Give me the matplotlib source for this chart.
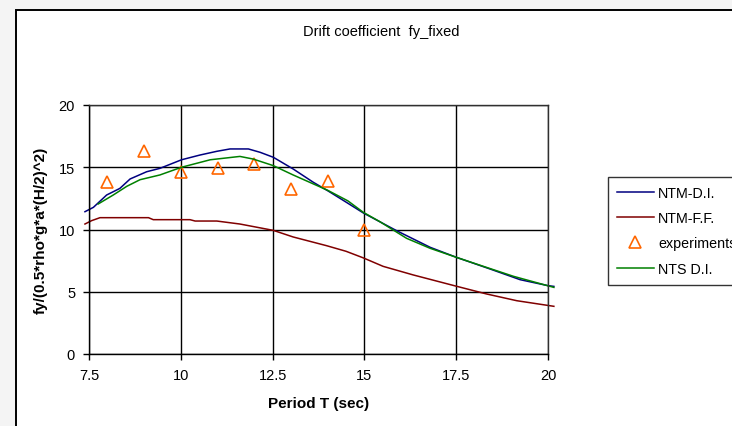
import numpy as np
import matplotlib.pyplot as plt
from matplotlib.patches import Rectangle

plt.rcParams['font.family'] = ['Liberation Sans', 'DejaVu Sans']

# NTM-D.I.
T_di = [7.39, 7.62, 7.98, 8.34, 8.62, 9.07, 9.43, 10.02, 10.52, 10.98, 11.34, 11.84,
        12.16, 12.52, 13.06, 13.61, 14.02, 14.5, 14.97, 15.88, 16.79, 17.51, 18.42,
        19.24, 20.0, 20.16]
fy_di = [11.43, 11.78, 12.77, 13.3, 14.06, 14.64, 14.91, 15.6, 15.98, 16.28, 16.47, 16.47,
         16.2, 15.8, 14.86, 13.79, 13.08, 12.2, 11.33, 9.9, 8.57, 7.76, 6.83,
         5.97, 5.49, 5.43]

# NTM-F.F.
T_ff = [7.39, 7.57, 7.8, 9.12, 9.25, 10.25, 10.39, 10.98, 11.61, 12.52, 13.06, 13.97,
        14.5, 14.97, 15.51, 16.33, 17.51, 18.33, 19.15, 20.16]
fy_ff = [10.44, 10.71, 10.95, 10.95, 10.79, 10.79, 10.68, 10.68, 10.44, 9.93, 9.4, 8.7,
         8.25, 7.72, 7.04, 6.35, 5.44, 4.82, 4.28, 3.83]

# NTS D.I.
T_nts = [7.75, 8.16, 8.53, 8.89, 9.43, 10.02, 10.8, 11.61, 11.97, 12.52, 13.06, 14.0,
         14.55, 14.97, 15.42, 16.15, 16.79, 17.51, 18.24, 19.06, 20.16]
fy_nts = [12.05, 12.77, 13.47, 14.0, 14.38, 15.0, 15.6, 15.87, 15.66, 15.13, 14.38, 13.15,
          12.3, 11.38, 10.63, 9.29, 8.49, 7.76, 7.04, 6.24, 5.35]

# experiments
T_exp = [8, 9, 10, 11, 12, 13, 14, 15]
fy_exp = [13.8, 16.3, 14.6, 14.9, 15.3, 13.25, 13.9, 9.96]

W, H = 732, 427
fig = plt.figure(figsize=(W / 100, H / 100), dpi=100, facecolor='#f4f4f4')

# white chart area with a black frame, behind the axes
fig.patches.append(Rectangle((16 / W, -0.1), 1.2, 1.1 - 11 / H, transform=fig.transFigure,
                             facecolor='white', edgecolor='black', linewidth=1.4, zorder=-5))

ax = fig.add_axes([89 / W, 1 - 355 / H, (548 - 89) / W, (355 - 106) / H])
ax.set_facecolor('white')

l1, = ax.plot(T_di, fy_di, color='#000080', lw=1.1, clip_on=False, label='NTM-D.I.')
l2, = ax.plot(T_ff, fy_ff, color='#800000', lw=1.1, clip_on=False, label='NTM-F.F.')
l3, = ax.plot(T_exp, fy_exp, ls='none', marker='^', ms=8, mfc='none', mec='#ff6600',
              mew=1.2, clip_on=False, label='experiments')
l4, = ax.plot(T_nts, fy_nts, color='#008000', lw=1.1, clip_on=False, label='NTS D.I.')

ax.set_xlim(7.5, 20)
ax.set_ylim(0, 20)
ax.set_xticks([7.5, 10, 12.5, 15, 17.5, 20])
ax.set_xticklabels(['7.5', '10', '12.5', '15', '17.5', '20'])
ax.set_yticks([0, 5, 10, 15, 20])
ax.grid(True, color='black', lw=1.0)
ax.set_axisbelow(True)
for s in ax.spines.values():
    s.set_color('black')
    s.set_linewidth(1.0)
ax.spines['top'].set_color('#303030')
ax.spines['right'].set_color('#303030')
ax.tick_params(direction='out', length=4, width=1.0, labelsize=10.5, pad=6)

ax.set_xlabel('Period T (sec)', fontsize=11, fontweight='bold', labelpad=10)
ax.set_ylabel('fy/(0.5*rho*g*a*(H/2)^2)', fontsize=11, fontweight='bold', labelpad=8)

fig.text(381 / W, 1 - 32 / H, 'Drift coefficient  fy_fixed', ha='center', va='center',
         fontsize=10.5)

leg = fig.legend(handles=[l1, l2, l3, l4], loc='upper left',
                 bbox_to_anchor=(608 / W, 1 - 178 / H), fontsize=10.3, frameon=True,
                 fancybox=False, edgecolor='black', handlelength=2.6, handletextpad=0.3,
                 borderpad=0.6, labelspacing=0.8, borderaxespad=0)
leg.get_frame().set_linewidth(1.0)

fig.savefig('out.png', dpi=100, facecolor=fig.get_facecolor())
